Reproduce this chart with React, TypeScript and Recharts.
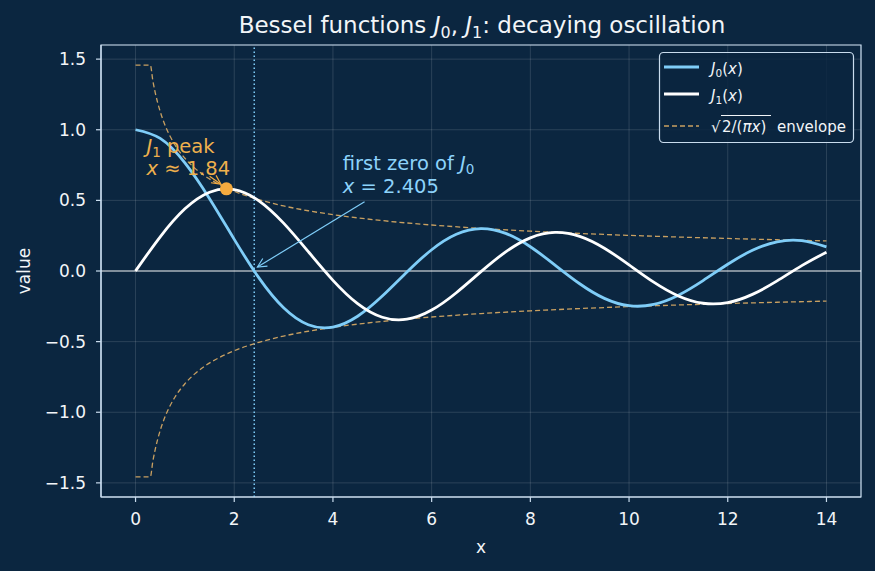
import React from 'react';
import {
  LineChart,
  Line,
  XAxis,
  YAxis,
  CartesianGrid,
  ReferenceLine,
  ReferenceDot,
  ReferenceArea,
} from 'recharts';

// sample points for the two Bessel curves
const xs = [0, 0.5, 1, 1.5, 2, 2.5, 3, 3.5, 4, 4.5, 5, 5.5, 6, 6.5, 7, 7.5, 8, 8.5, 9, 9.5, 10, 10.5, 11, 11.5, 12, 12.5, 13, 13.5, 14];
const j0Values = [1.0, 0.9385, 0.7652, 0.5118, 0.2239, -0.0484, -0.2601, -0.3801, -0.3971, -0.3205, -0.1776, -0.0068, 0.1506, 0.2601, 0.3001, 0.2663, 0.1717, 0.0419, -0.0903, -0.1939, -0.2459, -0.2366, -0.1712, -0.0677, 0.0477, 0.1469, 0.2069, 0.215, 0.1711];
const j1Values = [0, 0.2423, 0.4401, 0.5579, 0.5767, 0.4971, 0.3391, 0.1374, -0.066, -0.2311, -0.3276, -0.3414, -0.2767, -0.1538, -0.0047, 0.1352, 0.2346, 0.2731, 0.2453, 0.1613, 0.0435, -0.0789, -0.1768, -0.2284, -0.2234, -0.1655, -0.0703, 0.038, 0.1334];

// envelope (clipped near zero)
const envX = [0, 0.3, 0.35, 0.4, 0.5, 0.6, 0.7, 0.8, 1, 1.2, 1.4, 1.7, 2, 2.5, 3, 3.5, 4, 5, 6, 7, 8, 9, 10, 11, 12, 13, 14];
const envUpper = [1.457, 1.457, 1.3487, 1.2616, 1.1284, 1.0301, 0.9537, 0.8921, 0.7979, 0.7284, 0.6744, 0.612, 0.5642, 0.5046, 0.4607, 0.4265, 0.3989, 0.3568, 0.3257, 0.3016, 0.2821, 0.266, 0.2523, 0.2406, 0.2303, 0.2213, 0.2132];
const envLower = [-1.457, -1.457, -1.3487, -1.2616, -1.1284, -1.0301, -0.9537, -0.8921, -0.7979, -0.7284, -0.6744, -0.612, -0.5642, -0.5046, -0.4607, -0.4265, -0.3989, -0.3568, -0.3257, -0.3016, -0.2821, -0.266, -0.2523, -0.2406, -0.2303, -0.2213, -0.2132];

const xTicks = [0, 2, 4, 6, 8, 10, 12, 14];
const yTicks = [-1.5, -1.0, -0.5, 0.0, 0.5, 1.0, 1.5];

const peak = { x: 1.841, y: 0.5819 };
const firstZero = 2.405;

const BG = '#0b2640';
const SPINE = '#c9dcee';
const TXT = '#f2f5f8';
const BLUE = '#7fcdf8';
const ORANGE = '#f5ab3f';
const ENV = '#c9a061';
const FONT = '"DejaVu Sans", sans-serif';

const toRows = (x: number[], y: number[]) => x.map((v, i) => ({ x: v, y: y[i] }));

const j0Data = toRows(xs, j0Values);
const j1Data = toRows(xs, j1Values);
const upperData = toRows(envX, envUpper);
const lowerData = toRows(envX, envLower);

const peakLabel = ({ viewBox }: any) => (
  <text x={viewBox.x} y={viewBox.y} fill="#eeb04d" fontSize={19.5} fontFamily={FONT}>
    <tspan x={viewBox.x} dy={-22}>
      <tspan fontStyle="italic">J</tspan>
      <tspan fontSize={13.5} dy={4}>1</tspan>
      <tspan dy={-4}> peak</tspan>
    </tspan>
    <tspan x={viewBox.x} dy={22}>
      <tspan fontStyle="italic">x</tspan> ≈ 1.84
    </tspan>
  </text>
);

const zeroLabel = ({ viewBox }: any) => (
  <text x={viewBox.x} y={viewBox.y} fill="#8dd3fb" fontSize={19.5} fontFamily={FONT}>
    <tspan x={viewBox.x} dy={-23}>
      first zero of <tspan fontStyle="italic">J</tspan>
      <tspan fontSize={13.5} dy={4}>0</tspan>
    </tspan>
    <tspan x={viewBox.x} dy={19}>
      <tspan fontStyle="italic">x</tspan> = 2.405
    </tspan>
  </text>
);

const App: React.FC = () => {
  return (
    <div style={{ position: 'absolute', left: 0, top: 0, width: 875, height: 571, background: BG }}>
      <LineChart width={875} height={571} margin={{ top: 45, right: 14, bottom: 0, left: 1 }}>
        <defs>
          <marker id="arrBlue" markerUnits="userSpaceOnUse" markerWidth={12} markerHeight={12} refX={10} refY={6} orient="auto">
            <path d="M1,1.5 L10,6 L1,10.5" fill="none" stroke={BLUE} strokeWidth={1.2} />
          </marker>
          <marker id="arrOrange" markerUnits="userSpaceOnUse" markerWidth={12} markerHeight={12} refX={10} refY={6} orient="auto">
            <path d="M1,1.5 L10,6 L1,10.5" fill="none" stroke={ORANGE} strokeWidth={1.2} />
          </marker>
        </defs>
        <CartesianGrid stroke="rgba(255,255,255,0.17)" strokeWidth={0.8} />
        <XAxis
          type="number"
          dataKey="x"
          domain={[-0.7, 14.7]}
          ticks={xTicks}
          allowDataOverflow
          height={74}
          tickSize={5}
          tickMargin={11}
          stroke={SPINE}
          tickLine={{ stroke: SPINE, strokeWidth: 1.2 }}
          axisLine={{ stroke: SPINE, strokeWidth: 1.2 }}
          tick={{ fill: TXT, fontSize: 17, fontFamily: FONT }}
          label={({ viewBox }: any) => (
            <text x={viewBox.x + viewBox.width / 2} y={viewBox.y + 56} textAnchor="middle" fill={TXT} fontSize={17} fontFamily={FONT}>
              x
            </text>
          )}
        />
        <YAxis
          type="number"
          dataKey="y"
          domain={[-1.6, 1.6]}
          ticks={yTicks}
          allowDataOverflow
          width={100}
          tickSize={5}
          tickMargin={10}
          stroke={SPINE}
          tickLine={{ stroke: SPINE, strokeWidth: 1.2 }}
          axisLine={{ stroke: SPINE, strokeWidth: 1.2 }}
          tick={{ fill: TXT, fontSize: 17, fontFamily: FONT }}
          tickFormatter={(v: number) => v.toFixed(1).replace('-', '\u2212')}
          label={({ viewBox }: any) => {
            const cy = viewBox.y + viewBox.height / 2;
            return (
              <text x={30} y={cy} transform={`rotate(-90, 30, ${cy})`} textAnchor="middle" fill={TXT} fontSize={17} fontFamily={FONT}>
                value
              </text>
            );
          }}
        />
        <ReferenceArea x1={-0.7} x2={14.7} y1={-1.6} y2={1.6} fill="none" stroke={SPINE} strokeWidth={1.2} fillOpacity={0} />
        <ReferenceLine y={0} stroke="#ffffff" strokeWidth={1} strokeOpacity={0.9} />
        <ReferenceLine x={firstZero} stroke={BLUE} strokeWidth={1.5} strokeDasharray="1.5 2.5" />
        <Line data={upperData} dataKey="y" type="monotone" stroke={ENV} strokeWidth={1.3} strokeDasharray="5 3" dot={false} isAnimationActive={false} />
        <Line data={lowerData} dataKey="y" type="monotone" stroke={ENV} strokeWidth={1.3} strokeDasharray="5 3" dot={false} isAnimationActive={false} />
        <Line data={j0Data} dataKey="y" type="natural" stroke={BLUE} strokeWidth={2.8} dot={false} isAnimationActive={false} />
        <Line data={j1Data} dataKey="y" type="natural" stroke="#ffffff" strokeWidth={2.8} dot={false} isAnimationActive={false} />
        <ReferenceDot x={peak.x} y={peak.y} r={6.5} fill={ORANGE} stroke="none" />
        <ReferenceLine
          segment={[{ x: 1.5, y: 0.67 }, { x: 1.73, y: 0.615 }]}
          stroke={ORANGE}
          strokeWidth={1.2}
          markerEnd="url(#arrOrange)"
        />
        <ReferenceLine
          segment={[{ x: 4.64, y: 0.49 }, { x: 2.47, y: 0.028 }]}
          stroke={BLUE}
          strokeWidth={1.2}
          markerEnd="url(#arrBlue)"
        />
        <ReferenceDot x={0.22} y={0.68} r={0} fill="none" stroke="none" label={peakLabel} />
        <ReferenceDot x={4.2} y={0.55} r={0} fill="none" stroke="none" label={zeroLabel} />
      </LineChart>

      {/* title and legend overlay */}
      <svg width={875} height={571} style={{ position: 'absolute', left: 0, top: 0, pointerEvents: 'none' }}>
        <text x={482} y={33} textAnchor="middle" fill={TXT} fontSize={23} fontFamily={FONT}>
          Bessel functions <tspan fontStyle="italic">J</tspan>
          <tspan fontSize={16} dy={5}>0</tspan>
          <tspan dy={-5}>, </tspan>
          <tspan fontStyle="italic">J</tspan>
          <tspan fontSize={16} dy={5}>1</tspan>
          <tspan dy={-5}>: decaying oscillation</tspan>
        </text>

        <rect x={659.5} y={52.5} width={194} height={90} rx={4} fill={BG} fillOpacity={0.85} stroke={SPINE} strokeWidth={1.2} />
        <line x1={664} x2={699} y1={67} y2={67} stroke={BLUE} strokeWidth={3} />
        <line x1={664} x2={699} y1={94} y2={94} stroke="#ffffff" strokeWidth={3} />
        <line x1={664} x2={699} y1={126} y2={126} stroke={ENV} strokeWidth={1.4} strokeDasharray="5 3" />
        <text x={711} y={74} fill={TXT} fontSize={15} fontFamily={FONT}>
          <tspan fontStyle="italic">J</tspan>
          <tspan fontSize={10.5} dy={3}>0</tspan>
          <tspan dy={-3}>(</tspan>
          <tspan fontStyle="italic">x</tspan>)
        </text>
        <text x={711} y={101} fill={TXT} fontSize={15} fontFamily={FONT}>
          <tspan fontStyle="italic">J</tspan>
          <tspan fontSize={10.5} dy={3}>1</tspan>
          <tspan dy={-3}>(</tspan>
          <tspan fontStyle="italic">x</tspan>)
        </text>
        <text x={711} y={132} fill={TXT} fontSize={15} fontFamily={FONT}>√</text>
        <line x1={721} x2={771} y1={115.5} y2={115.5} stroke={TXT} strokeWidth={1} />
        <text x={722} y={132} fill={TXT} fontSize={15} fontFamily={FONT}>
          2/(<tspan fontStyle="italic">πx</tspan>)
        </text>
        <text x={777} y={132} fill={TXT} fontSize={15} fontFamily={FONT}>envelope</text>
      </svg>
    </div>
  );
};

export default App;
